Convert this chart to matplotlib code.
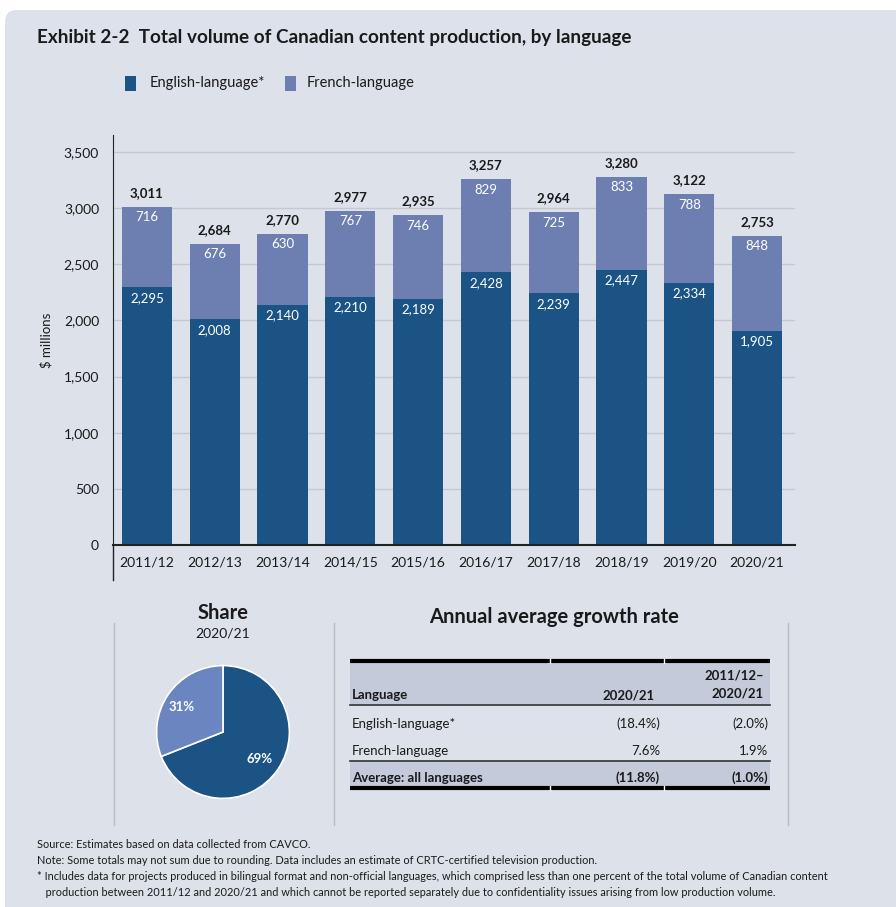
import numpy as np
import matplotlib.pyplot as plt
from matplotlib.patches import FancyBboxPatch, Rectangle

plt.rcParams['font.family'] = ['Lato', 'DejaVu Sans']

years = ['2011/12', '2012/13', '2013/14', '2014/15', '2015/16',
         '2016/17', '2017/18', '2018/19', '2019/20', '2020/21']
english = [2295, 2008, 2140, 2210, 2189, 2428, 2239, 2447, 2334, 1905]
french = [716, 676, 630, 767, 746, 829, 725, 833, 788, 848]
totals = [3011, 2684, 2770, 2977, 2935, 3257, 2964, 3280, 3122, 2753]

share_labels = ['English-language*', 'French-language']
share_values = [69, 31]

table_rows = ['English-language*', 'French-language', 'Average: all languages']
growth_2021 = ['(18.4%)', '7.6%', '(11.8%)']
growth_decade = ['(2.0%)', '1.9%', '(1.0%)']

C_EN = '#1b5385'
C_FR = '#6c7fb0'
C_FR_PIE = '#6a85c0'
C_BG = '#dde1e9'
C_TXT = '#1a1a1a'

W, H = 896, 907
fig = plt.figure(figsize=(W / 100, H / 100), dpi=100)
fig.patch.set_facecolor('white')


def px_axes(l, t, r, b, **kw):
    return fig.add_axes([l / W, 1 - b / H, (r - l) / W, (b - t) / H], **kw)


# full-figure layer in pixel units for panel, titles, table and notes
base = px_axes(0, 0, W, H)
base.set_xlim(0, W)
base.set_ylim(H, 0)
base.axis('off')
base.set_zorder(0)
base.add_patch(FancyBboxPatch((5, 10), W + 20, H + 20,
                              boxstyle='round,pad=0,rounding_size=12',
                              fc=C_BG, ec='none', zorder=0))

base.text(37, 37, 'Exhibit 2-2  Total volume of Canadian content production, by language',
          fontsize=13.6, fontweight='bold', color=C_TXT, va='center', ha='left')

# legend
base.add_patch(Rectangle((125, 76), 11, 15, fc=C_EN, ec='none'))
base.text(150, 83.5, 'English-language*', fontsize=10.5, va='center', color=C_TXT)
base.add_patch(Rectangle((285, 76), 11, 15, fc=C_FR, ec='none'))
base.text(307, 83.5, 'French-language', fontsize=10.5, va='center', color=C_TXT)

# stacked bars
ax = px_axes(113, 135, 795, 545)
ax.set_zorder(1)
ax.patch.set_visible(False)
x = np.arange(len(years))
ax.bar(x, english, width=0.74, color=C_EN, zorder=2)
ax.bar(x, french, bottom=english, width=0.74, color=C_FR, zorder=2)
for i in range(len(years)):
    ax.text(x[i], totals[i] + 70, f'{totals[i]:,}', ha='center', va='bottom',
            fontsize=9.5, fontweight='bold', color=C_TXT)
    ax.text(x[i], english[i] + french[i] - 40, f'{french[i]:,}', ha='center',
            va='top', fontsize=9.5, color='white')
    ax.text(x[i], english[i] - 40, f'{english[i]:,}', ha='center', va='top',
            fontsize=9.5, color='white')
ax.set_xlim(-0.5, 9.56)
ax.set_ylim(0, 3650)
ax.set_yticks(range(0, 3501, 500))
ax.set_yticklabels([f'{v:,}' for v in range(0, 3501, 500)])
ax.set_xticks(x)
ax.set_xticklabels(years)
ax.tick_params(length=0, labelsize=10, colors=C_TXT, pad=10)
ax.tick_params(axis='x', pad=8)
ax.yaxis.grid(True, color='#c4c8d0', lw=1, zorder=0)
for s in ['top', 'right']:
    ax.spines[s].set_visible(False)
ax.spines['left'].set_color('#222222')
ax.spines['bottom'].set_color('#222222')
ax.spines['bottom'].set_linewidth(1.5)
ax.plot([0, 0], [0, -0.085], transform=ax.transAxes, color='#222222',
        lw=1, clip_on=False)
ax.set_ylabel('$ millions', fontsize=9.5, color=C_TXT, labelpad=8)

# separators in lower section
for sx in [114, 334, 788]:
    base.plot([sx, sx], [623, 825], color='#b8bcc4', lw=1)

# pie of 2020/21 share
base.text(223, 613, 'Share', fontsize=14.5, fontweight='bold', ha='center',
          va='center', color=C_TXT)
base.text(223, 634, '2020/21', fontsize=10, ha='center', va='center', color=C_TXT)
pax = px_axes(140, 649, 306, 815)
pax.set_zorder(1)
pax.pie(share_values, colors=[C_EN, C_FR_PIE], startangle=90, counterclock=False,
        wedgeprops=dict(edgecolor='white', linewidth=1.2),
        labels=None)
pax.set_aspect('equal')
pax.text(0.55, -0.41, f'{share_values[0]}%', ha='center', va='center',
         fontsize=9.5, fontweight='bold', color='white')
pax.text(-0.62, 0.37, f'{share_values[1]}%', ha='center', va='center',
         fontsize=9.5, fontweight='bold', color='white')

# growth-rate table
base.text(554, 617, 'Annual average growth rate', fontsize=14.5, fontweight='bold',
          ha='center', va='center', color=C_TXT)
tl, tr = 350, 770
base.add_patch(Rectangle((tl, 661), tr - tl, 44, fc='#c5cadb', ec='none'))
base.add_patch(Rectangle((tl, 761), tr - tl, 27, fc='#c5cadb', ec='none'))
base.plot([tl, tr], [661, 661], color='black', lw=3, solid_capstyle='butt')
base.plot([tl, tr], [705, 705], color='#333333', lw=1.2)
base.plot([tl, tr], [761, 761], color='#333333', lw=1.2)
base.plot([tl, tr], [788, 788], color='black', lw=3, solid_capstyle='butt')
for cx in [550, 664]:
    base.plot([cx, cx], [659, 663], color='white', lw=1)
    base.plot([cx, cx], [786, 790], color='white', lw=1)
base.text(352, 695, 'Language', fontsize=9.5, fontweight='bold', va='center', color=C_TXT)
base.text(655, 695, '2020/21', fontsize=9.5, fontweight='bold', va='center',
          ha='right', color=C_TXT)
base.text(764, 676, '2011/12\u2013', fontsize=9.5, fontweight='bold', va='center',
          ha='right', color=C_TXT)
base.text(764, 693, '2020/21', fontsize=9.5, fontweight='bold', va='center',
          ha='right', color=C_TXT)
row_y = [724, 751, 778]
for i in range(3):
    wt = 'bold' if i == 2 else 'normal'
    base.text(352, row_y[i], table_rows[i], fontsize=9.5, fontweight=wt,
              va='center', color=C_TXT)
    base.text(660, row_y[i], growth_2021[i], fontsize=9.5, fontweight=wt,
              va='center', ha='right', color=C_TXT)
    base.text(768, row_y[i], growth_decade[i], fontsize=9.5, fontweight=wt,
              va='center', ha='right', color=C_TXT)

# notes
notes = [
    'Source: Estimates based on data collected from CAVCO.',
    'Note: Some totals may not sum due to rounding. Data includes an estimate of CRTC-certified television production.',
    '* Includes data for projects produced in bilingual format and non-official languages, which comprised less than one percent of the total volume of Canadian content',
    '   production between 2011/12 and 2020/21 and which cannot be reported separately due to confidentiality issues arising from low production volume.',
]
for i, n in enumerate(notes):
    base.text(37, 845 + 16 * i, n, fontsize=7.9, va='center', color=C_TXT)

fig.savefig('out.png', dpi=100, facecolor='white')
